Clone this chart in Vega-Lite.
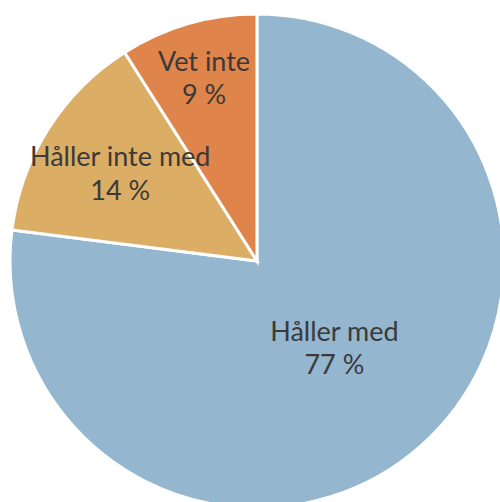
{
  "$schema": "https://vega.github.io/schema/vega-lite/v6.json",
  "width": 500,
  "height": 502,
  "autosize": {"type": "fit", "contains": "padding"},
  "padding": {"left": 14, "top": 20, "right": 0, "bottom": 0},
  "background": "white",
  "view": {"stroke": null},
  "data": {
    "values": [
      {"category": "Håller med", "pct": 77, "order": 1, "label": "Håller med\n77 %"},
      {"category": "Håller inte med", "pct": 14, "order": 2, "label": "Håller inte med\n14 %"},
      {"category": "Vet inte", "pct": 9, "order": 3, "label": "Vet inte\n9 %"}
    ]
  },
  "encoding": {
    "theta": {"field": "pct", "type": "quantitative", "stack": true},
    "order": {"field": "order", "type": "quantitative"}
  },
  "layer": [
    {
      "mark": {"type": "arc", "outerRadius": 247, "stroke": "white", "strokeWidth": 3},
      "encoding": {
        "color": {
          "field": "category",
          "type": "nominal",
          "scale": {
            "domain": ["Håller med", "Håller inte med", "Vet inte"],
            "range": ["#95B6CF", "#DCAD65", "#DF844A"]
          },
          "legend": null
        }
      }
    },
    {
      "mark": {
        "type": "text",
        "radius": {"expr": "datum.category == 'Håller med' ? 117 : (datum.category == 'Vet inte' ? 190 : 162)"},
        "dy": -16,
        "lineBreak": "\n",
        "lineHeight": 33.5,
        "font": "Lato",
        "fontSize": 27,
        "color": "#3a3a3a",
        "align": "center",
        "baseline": "middle"
      },
      "encoding": {
        "text": {"field": "label", "type": "nominal"}
      }
    }
  ]
}
